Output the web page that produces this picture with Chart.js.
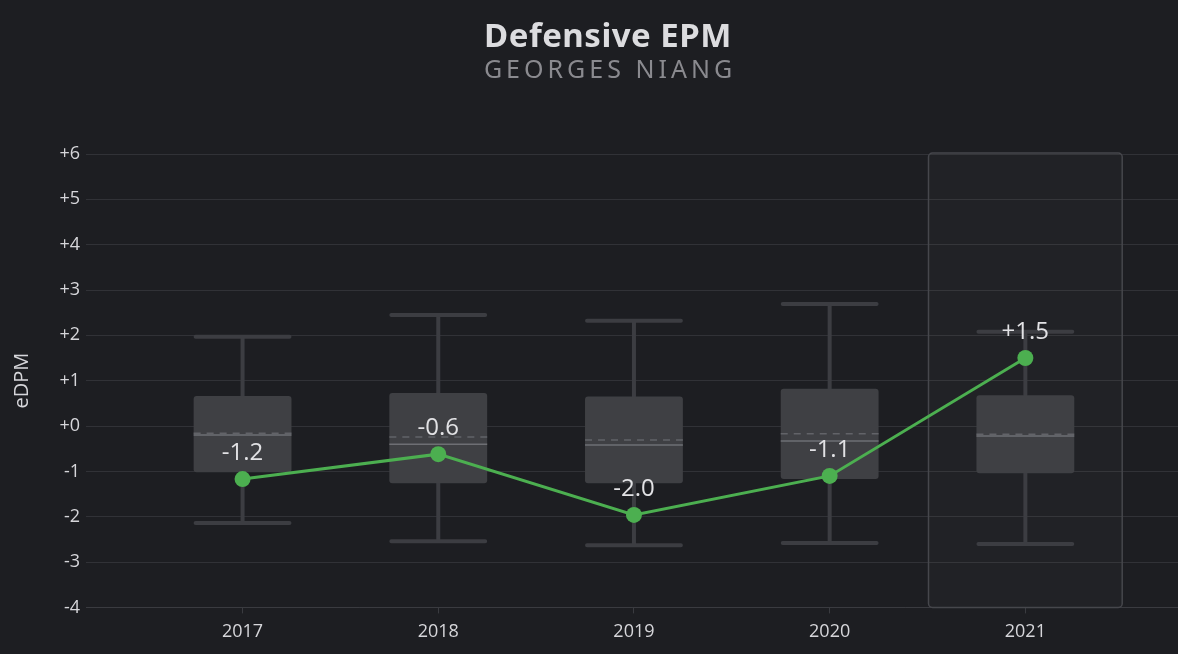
<!DOCTYPE html>
<html>
<head>
<meta charset="utf-8">
<script src="https://cdn.jsdelivr.net/npm/chart.js@4"></script>
<style>
  html, body { margin: 0; padding: 0; background: #1d1e22; }
  #wrap { width: 1178px; height: 654px; }
</style>
</head>
<body>
<div id="wrap"><canvas id="myChart" width="1178" height="654"></canvas></div>
<script>
// seasons and player values
const seasons = [2017, 2018, 2019, 2020, 2021];
const playerEpm = [-1.17, -0.62, -1.96, -1.10, 1.50];

// league distribution per season (box plot)
const whiskerLow = [-2.14, -2.54, -2.63, -2.58, -2.60];
const q1 = [-1.02, -1.26, -1.26, -1.17, -1.04];
const median = [-0.20, -0.40, -0.42, -0.33, -0.22];
const mean = [-0.16, -0.24, -0.31, -0.17, -0.18];
const q3 = [0.66, 0.73, 0.65, 0.82, 0.68];
const whiskerHigh = [1.97, 2.45, 2.32, 2.69, 2.08];

const highlightSeason = 2021;
const yTicks = [-4, -3, -2, -1, 0, 1, 2, 3, 4, 5, 6];

const fmt = v => (v >= 0 ? '+' : '') + v.toFixed(1);

// highlight column + box plots, drawn under the line
const boxPlots = {
  id: 'boxPlots',
  beforeDatasetsDraw(chart) {
    const { ctx, chartArea: { top, bottom }, scales: { x, y } } = chart;
    ctx.save();
    // highlighted season
    const hx0 = x.getPixelForValue(highlightSeason - 0.5);
    const hx1 = x.getPixelForValue(highlightSeason + 0.5);
    ctx.beginPath();
    ctx.roundRect(hx0 + 1, top - 1, hx1 - hx0 - 2, bottom - top + 1, 4);
    ctx.fillStyle = 'rgba(255,255,255,0.018)';
    ctx.fill();
    ctx.strokeStyle = '#46474c';
    ctx.lineWidth = 1.5;
    ctx.stroke();

    seasons.forEach((s, i) => {
      const cx = x.getPixelForValue(s);
      const left = x.getPixelForValue(s - 0.25);
      const right = x.getPixelForValue(s + 0.25);
      const yLo = y.getPixelForValue(whiskerLow[i]);
      const yHi = y.getPixelForValue(whiskerHigh[i]);
      const yQ1 = y.getPixelForValue(q1[i]);
      const yQ3 = y.getPixelForValue(q3[i]);

      // whiskers
      ctx.strokeStyle = '#3c3d42';
      ctx.lineWidth = 4;
      ctx.lineCap = 'round';
      ctx.setLineDash([]);
      ctx.beginPath();
      ctx.moveTo(cx, yHi); ctx.lineTo(cx, yQ3);
      ctx.moveTo(cx, yQ1); ctx.lineTo(cx, yLo);
      ctx.moveTo(left + 2, yHi); ctx.lineTo(right - 2, yHi);
      ctx.moveTo(left + 2, yLo); ctx.lineTo(right - 2, yLo);
      ctx.stroke();

      // box
      ctx.beginPath();
      ctx.roundRect(left, yQ3, right - left, yQ1 - yQ3, 3);
      ctx.fillStyle = '#3f4044';
      ctx.fill();

      // mean (dashed)
      ctx.lineCap = 'butt';
      ctx.lineWidth = 1.5;
      ctx.strokeStyle = '#626368';
      ctx.setLineDash([7, 6]);
      ctx.beginPath();
      const ym = y.getPixelForValue(mean[i]);
      ctx.moveTo(left, ym); ctx.lineTo(right, ym);
      ctx.stroke();

      // median
      ctx.setLineDash([]);
      ctx.strokeStyle = '#6e6f74';
      ctx.beginPath();
      const yMed = y.getPixelForValue(median[i]);
      ctx.moveTo(left, yMed); ctx.lineTo(right, yMed);
      ctx.stroke();
    });
    ctx.restore();
  }
};

// value labels above points + titles
const labelsAndTitle = {
  id: 'labelsAndTitle',
  afterDatasetsDraw(chart) {
    const { ctx, scales: { x, y } } = chart;
    ctx.save();
    ctx.font = '400 24px "Open Sans", sans-serif';
    ctx.fillStyle = '#e2e2e5';
    ctx.textAlign = 'center';
    ctx.textBaseline = 'middle';
    seasons.forEach((s, i) => {
      ctx.fillText(fmt(playerEpm[i]), x.getPixelForValue(s), y.getPixelForValue(playerEpm[i]) - 26);
    });
    ctx.restore();
  },
  afterDraw(chart) {
    const { ctx } = chart;
    ctx.save();
    ctx.textAlign = 'center';
    ctx.textBaseline = 'middle';
    ctx.font = '700 33px "Noto Sans", sans-serif';
    ctx.fillStyle = '#dcdcdf';
    ctx.letterSpacing = '0.5px';
    ctx.fillText('Defensive EPM', 608, 38);
    ctx.font = '400 25px "Noto Sans", sans-serif';
    ctx.fillStyle = '#8a8a8f';
    ctx.letterSpacing = '4px';
    ctx.fillText('GEORGES NIANG', 610, 71);
    ctx.restore();
  }
};

const data = {
  datasets: [{
    label: 'Georges Niang',
    data: seasons.map((s, i) => ({ x: s, y: playerEpm[i] })),
    borderColor: '#4caf50',
    backgroundColor: '#4caf50',
    borderWidth: 3,
    pointRadius: 8,
    pointHoverRadius: 8,
    pointBorderWidth: 0,
    tension: 0
  }]
};

const config = {
  type: 'line',
  data,
  options: {
    responsive: false,
    animation: false,
    layout: { autoPadding: false, padding: { top: 154, bottom: 3, left: 0, right: 0 } },
    plugins: {
      legend: { display: false },
      tooltip: { enabled: false }
    },
    scales: {
      x: {
        type: 'linear',
        min: 2016.2,
        max: 2021.78,
        afterBuildTicks: scale => { scale.ticks = seasons.map(v => ({ value: v })); },
        ticks: {
          callback: v => String(v),
          color: '#d6d6da',
          font: { family: '"Open Sans", sans-serif', size: 18 },
          padding: 8,
          maxRotation: 0,
          autoSkip: false
        },
        grid: { drawOnChartArea: false, drawTicks: true, tickLength: 6, color: '#3a3b40' },
        border: { display: true, color: '#3a3b40' }
      },
      y: {
        min: -4,
        max: 6,
        afterBuildTicks: scale => { scale.ticks = yTicks.map(v => ({ value: v })); },
        afterFit: scale => { scale.width = 86; },
        ticks: {
          callback: v => (v >= 0 ? '+' : '') + v,
          color: '#d6d6da',
          font: { family: '"Open Sans", sans-serif', size: 18 },
          padding: 6
        },
        grid: { color: '#313237', drawTicks: false },
        border: { display: false },
        title: {
          display: true,
          text: 'eDPM',
          color: '#d6d6da',
          font: { family: '"Open Sans", sans-serif', size: 20 },
          padding: { top: 10, bottom: 0 }
        }
      }
    }
  },
  plugins: [boxPlots, labelsAndTitle]
};

const myChart = new Chart(document.getElementById('myChart'), config);
</script>
</body>
</html>
